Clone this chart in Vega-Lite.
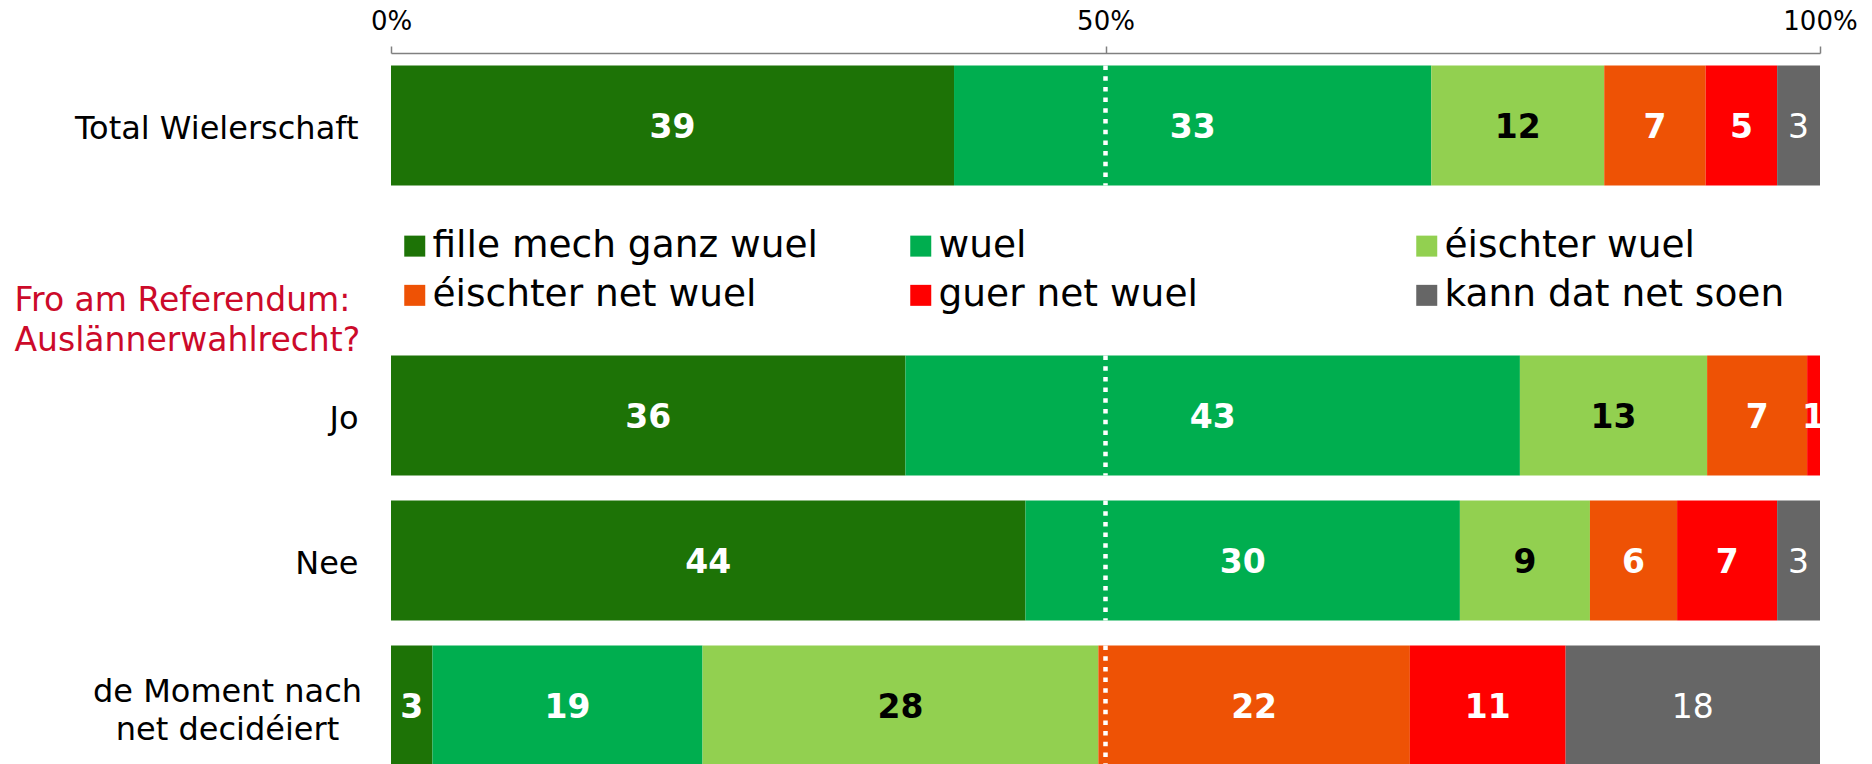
{
  "$schema": "https://vega.github.io/schema/vega-lite/v6.json",
  "autosize": {"type": "none"},
  "padding": {"left": 391, "top": 53, "right": 52, "bottom": 0},
  "width": 1429,
  "height": 725,
  "background": "white",
  "config": {"view": {"stroke": null}, "font": "DejaVu Sans"},
  "data": {"values": [
    {"row": "Total Wielerschaft", "cat": "fille mech ganz wuel", "k": 1, "value": 39.4},
    {"row": "Total Wielerschaft", "cat": "wuel", "k": 2, "value": 33.4},
    {"row": "Total Wielerschaft", "cat": "éischter wuel", "k": 3, "value": 12.1},
    {"row": "Total Wielerschaft", "cat": "éischter net wuel", "k": 4, "value": 7.1},
    {"row": "Total Wielerschaft", "cat": "guer net wuel", "k": 5, "value": 5.0},
    {"row": "Total Wielerschaft", "cat": "kann dat net soen", "k": 6, "value": 3.0},
    {"row": "Jo", "cat": "fille mech ganz wuel", "k": 1, "value": 36.0},
    {"row": "Jo", "cat": "wuel", "k": 2, "value": 43.0},
    {"row": "Jo", "cat": "éischter wuel", "k": 3, "value": 13.1},
    {"row": "Jo", "cat": "éischter net wuel", "k": 4, "value": 7.0},
    {"row": "Jo", "cat": "guer net wuel", "k": 5, "value": 0.9},
    {"row": "Nee", "cat": "fille mech ganz wuel", "k": 1, "value": 44.4},
    {"row": "Nee", "cat": "wuel", "k": 2, "value": 30.4},
    {"row": "Nee", "cat": "éischter wuel", "k": 3, "value": 9.1},
    {"row": "Nee", "cat": "éischter net wuel", "k": 4, "value": 6.1},
    {"row": "Nee", "cat": "guer net wuel", "k": 5, "value": 7.0},
    {"row": "Nee", "cat": "kann dat net soen", "k": 6, "value": 3.0},
    {"row": "de Moment nach|net decidéiert", "cat": "fille mech ganz wuel", "k": 1, "value": 2.9},
    {"row": "de Moment nach|net decidéiert", "cat": "wuel", "k": 2, "value": 18.9},
    {"row": "de Moment nach|net decidéiert", "cat": "éischter wuel", "k": 3, "value": 27.7},
    {"row": "de Moment nach|net decidéiert", "cat": "éischter net wuel", "k": 4, "value": 21.8},
    {"row": "de Moment nach|net decidéiert", "cat": "guer net wuel", "k": 5, "value": 10.9},
    {"row": "de Moment nach|net decidéiert", "cat": "kann dat net soen", "k": 6, "value": 17.8}
  ]},
  "encoding": {
    "y": {
      "field": "row", "type": "nominal",
      "scale": {"domain": ["Total Wielerschaft", "blank", "Jo", "Nee", "de Moment nach|net decidéiert"], "paddingInner": 0.172, "paddingOuter": 0.086},
      "axis": {
        "title": ["Fro am Referendum:", "Auslännerwahlrecht?"],
        "titleColor": "#CC0A2A", "titleFontSize": 33, "titleFontWeight": "normal", "titleFont": "DejaVu Sans",
        "titleAngle": 0, "titleAlign": "left", "titleBaseline": "alphabetic",
        "titleX": -377, "titleY": 257, "titleLineHeight": 40, "titleLimit": 1000,
        "labelExpr": "datum.value == 'blank' ? '' : split(datum.value, '|')",
        "labelFontSize": 32, "labelColor": "black", "labelLimit": 1000, "labelLineHeight": 38,
        "labelAlign": {"condition": {"test": "indexof(datum.value, '|') >= 0", "value": "center"}, "value": "right"},
        "labelPadding": {"condition": {"test": "indexof(datum.value, '|') >= 0", "value": 164}, "value": 33},
        "labelOffset": {"condition": {"test": "indexof(datum.value, '|') >= 0", "value": -14}, "value": 3},
        "ticks": false, "domain": false, "grid": false
      }
    }
  },
  "layer": [
    {
      "mark": {"type": "bar"},
      "encoding": {
        "x": {
          "field": "value", "type": "quantitative", "stack": "normalize",
          "scale": {"domain": [0, 1], "nice": false},
          "axis": {"orient": "top", "title": null, "values": [0, 0.5, 1], "format": ".0%", "grid": false,
                   "labelFontSize": 26, "labelColor": "black", "labelPadding": 12, "labelFlush": false,
                   "domainColor": "#808080", "domainWidth": 1.5, "tickColor": "#808080", "tickWidth": 1.5, "tickSize": 7}
        },
        "color": {
          "field": "cat", "type": "nominal",
          "scale": {
            "domain": ["fille mech ganz wuel", "wuel", "éischter wuel", "éischter net wuel", "guer net wuel", "kann dat net soen"],
            "range": ["#1D7306", "#00AE4F", "#92D050", "#EE5205", "#FF0000", "#666666"]
          },
          "legend": {
            "title": null, "orient": "none", "legendX": 5, "legendY": 174, "direction": "horizontal",
            "columns": 3, "gridAlign": "all", "columnPadding": 84, "rowPadding": 10.6,
            "labelFontSize": 37.5, "labelColor": "black", "labelLimit": 1000, "labelOffset": -1,
            "symbolType": "square", "symbolSize": 441, "symbolStrokeWidth": 0, "symbolOpacity": 1
          }
        },
        "order": {"field": "k", "type": "quantitative"}
      }
    },
    {
      "transform": [{"aggregate": [{"op": "count", "as": "n"}], "groupby": ["row"]}],
      "mark": {"type": "rule", "color": "white", "strokeWidth": 4.5, "strokeDash": [4.5, 6.2], "yOffset": -60, "y2Offset": 60},
      "encoding": {"x": {"datum": 0.5}, "y2": {"field": "row"}}
    },
    {
      "mark": {"type": "text", "fontSize": 33, "baseline": "middle", "align": "center", "dy": 2,
               "fontWeight": {"expr": "datum.cat == 'kann dat net soen' ? 'normal' : 'bold'"}},
      "encoding": {
        "x": {"field": "value", "type": "quantitative", "stack": "normalize", "bandPosition": 0.5},
        "detail": {"field": "cat"},
        "order": {"field": "k", "type": "quantitative"},
        "text": {"field": "value", "type": "quantitative", "format": ".0f"},
        "color": {"condition": {"test": "datum.cat == 'éischter wuel'", "value": "black"}, "value": "white"}
      }
    }
  ]
}
